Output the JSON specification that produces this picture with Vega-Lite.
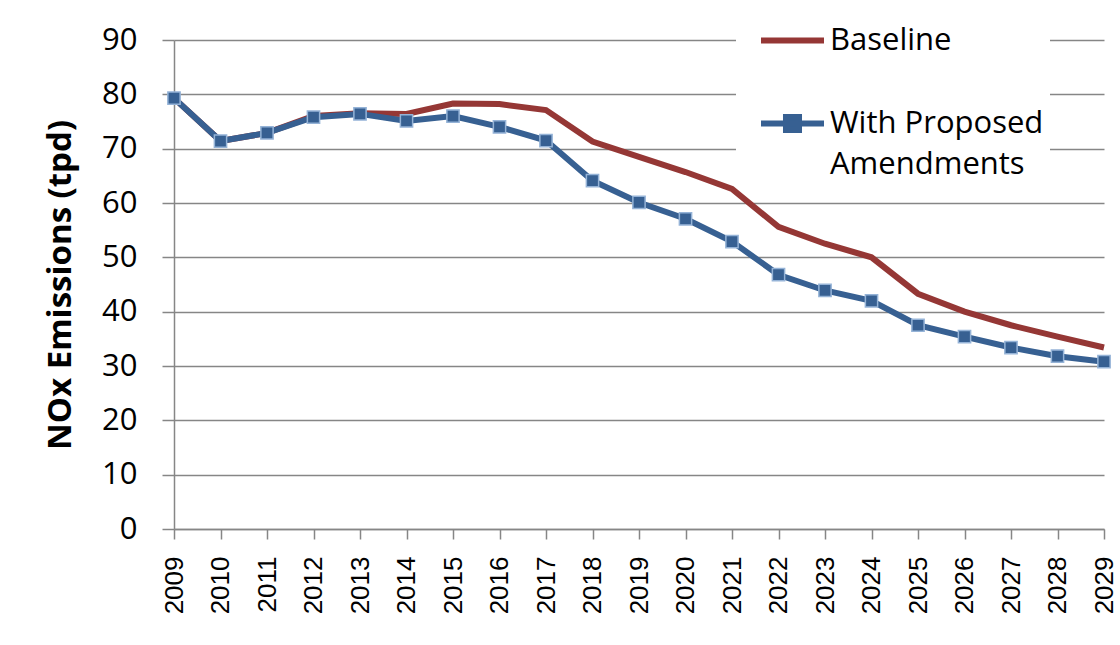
{
  "$schema": "https://vega.github.io/schema/vega-lite/v6.json",
  "width": 930,
  "height": 489,
  "autosize": {"type": "none"},
  "padding": {"left": 174, "top": 40, "right": 16, "bottom": 116},
  "background": "white",
  "config": {
    "view": {"stroke": null},
    "font": "Open Sans"
  },
  "data": {
    "values": [
      {"year": 2009, "series": "Baseline", "nox": 79.3},
      {"year": 2010, "series": "Baseline", "nox": 71.4},
      {"year": 2011, "series": "Baseline", "nox": 72.9},
      {"year": 2012, "series": "Baseline", "nox": 76.0},
      {"year": 2013, "series": "Baseline", "nox": 76.5},
      {"year": 2014, "series": "Baseline", "nox": 76.4},
      {"year": 2015, "series": "Baseline", "nox": 78.3},
      {"year": 2016, "series": "Baseline", "nox": 78.2},
      {"year": 2017, "series": "Baseline", "nox": 77.1},
      {"year": 2018, "series": "Baseline", "nox": 71.3},
      {"year": 2019, "series": "Baseline", "nox": 68.5},
      {"year": 2020, "series": "Baseline", "nox": 65.7},
      {"year": 2021, "series": "Baseline", "nox": 62.6},
      {"year": 2022, "series": "Baseline", "nox": 55.6},
      {"year": 2023, "series": "Baseline", "nox": 52.5},
      {"year": 2024, "series": "Baseline", "nox": 50.0},
      {"year": 2025, "series": "Baseline", "nox": 43.3},
      {"year": 2026, "series": "Baseline", "nox": 40.0},
      {"year": 2027, "series": "Baseline", "nox": 37.5},
      {"year": 2028, "series": "Baseline", "nox": 35.4},
      {"year": 2029, "series": "Baseline", "nox": 33.4},
      {"year": 2009, "series": "With Proposed Amendments", "nox": 79.3},
      {"year": 2010, "series": "With Proposed Amendments", "nox": 71.4},
      {"year": 2011, "series": "With Proposed Amendments", "nox": 72.9},
      {"year": 2012, "series": "With Proposed Amendments", "nox": 75.8},
      {"year": 2013, "series": "With Proposed Amendments", "nox": 76.4},
      {"year": 2014, "series": "With Proposed Amendments", "nox": 75.1},
      {"year": 2015, "series": "With Proposed Amendments", "nox": 76.0},
      {"year": 2016, "series": "With Proposed Amendments", "nox": 74.0},
      {"year": 2017, "series": "With Proposed Amendments", "nox": 71.5},
      {"year": 2018, "series": "With Proposed Amendments", "nox": 64.1},
      {"year": 2019, "series": "With Proposed Amendments", "nox": 60.1},
      {"year": 2020, "series": "With Proposed Amendments", "nox": 57.1},
      {"year": 2021, "series": "With Proposed Amendments", "nox": 52.9},
      {"year": 2022, "series": "With Proposed Amendments", "nox": 46.8},
      {"year": 2023, "series": "With Proposed Amendments", "nox": 43.9},
      {"year": 2024, "series": "With Proposed Amendments", "nox": 42.0},
      {"year": 2025, "series": "With Proposed Amendments", "nox": 37.5},
      {"year": 2026, "series": "With Proposed Amendments", "nox": 35.4},
      {"year": 2027, "series": "With Proposed Amendments", "nox": 33.4},
      {"year": 2028, "series": "With Proposed Amendments", "nox": 31.8},
      {"year": 2029, "series": "With Proposed Amendments", "nox": 30.8}
    ]
  },
  "encoding": {
    "x": {
      "field": "year",
      "type": "quantitative",
      "scale": {"domain": [2009, 2029], "nice": false, "zero": false},
      "axis": {
        "title": null,
        "grid": false,
        "values": [2009, 2010, 2011, 2012, 2013, 2014, 2015, 2016, 2017, 2018, 2019, 2020, 2021, 2022, 2023, 2024, 2025, 2026, 2027, 2028, 2029],
        "format": "d",
        "labelAngle": -90,
        "labelFont": "Liberation Sans",
        "labelFontSize": 26,
        "labelColor": "black",
        "labelPadding": 17,
        "labelOverlap": false,
        "labelFlush": false,
        "domainColor": "#868686",
        "domainWidth": 1.5,
        "tickColor": "#868686",
        "tickWidth": 1.5,
        "tickSize": 10
      }
    },
    "y": {
      "field": "nox",
      "type": "quantitative",
      "scale": {"domain": [0, 90], "nice": false},
      "axis": {
        "title": "NOx Emissions (tpd)",
        "titleFont": "Open Sans",
        "titleFontWeight": "bold",
        "titleFontSize": 33,
        "titleColor": "black",
        "titlePadding": 24,
        "values": [0, 10, 20, 30, 40, 50, 60, 70, 80, 90],
        "labelFont": "Open Sans",
        "labelFontSize": 31,
        "labelColor": "black",
        "labelPadding": 25,
        "labelFlush": false,
        "gridColor": "#868686",
        "gridWidth": 1.5,
        "domainColor": "#868686",
        "domainWidth": 1.5,
        "tickColor": "#868686",
        "tickWidth": 1.5,
        "tickSize": 12
      }
    }
  },
  "layer": [
    {
      "mark": {"type": "line", "strokeWidth": 6},
      "encoding": {
        "color": {
          "field": "series",
          "type": "nominal",
          "scale": {
            "domain": ["Baseline", "With Proposed Amendments"],
            "range": ["#953735", "#376092"]
          },
          "legend": {
            "orient": "none",
            "legendX": 562,
            "legendY": -21,
            "title": null,
            "padding": 6,
            "symbolOffset": 14,
            "fillColor": "white",
            "symbolType": "stroke",
            "symbolSize": 441,
            "symbolStrokeWidth": 6,
            "labelFont": "Open Sans",
            "labelFontSize": 31,
            "labelColor": "black",
            "labelOffset": 43,
            "labelLimit": 500,
            "rowPadding": 48,
            "labelExpr": "datum.label === 'With Proposed Amendments' ? ['With Proposed', 'Amendments'] : datum.label",
            "encode": {
              "labels": {"update": {"lineHeight": {"value": 41}}},
              "symbols": {
                "update": {
                  "shape": {"signal": "datum.value === 'Baseline' ? 'M-1,0H5' : 'M-1,0H5M1.38,-0.62H2.62V0.62H1.38Z'"},
                  "fill": {"signal": "datum.value === 'Baseline' ? 'transparent' : '#376092'"}
                }
              }
            }
          }
        }
      }
    },
    {
      "transform": [{"filter": "datum.series === 'With Proposed Amendments'"}],
      "mark": {
        "type": "point",
        "shape": "square",
        "filled": true,
        "size": 150,
        "fill": "#376092",
        "stroke": "#95B3D7",
        "strokeWidth": 1.5,
        "opacity": 1
      }
    }
  ]
}
